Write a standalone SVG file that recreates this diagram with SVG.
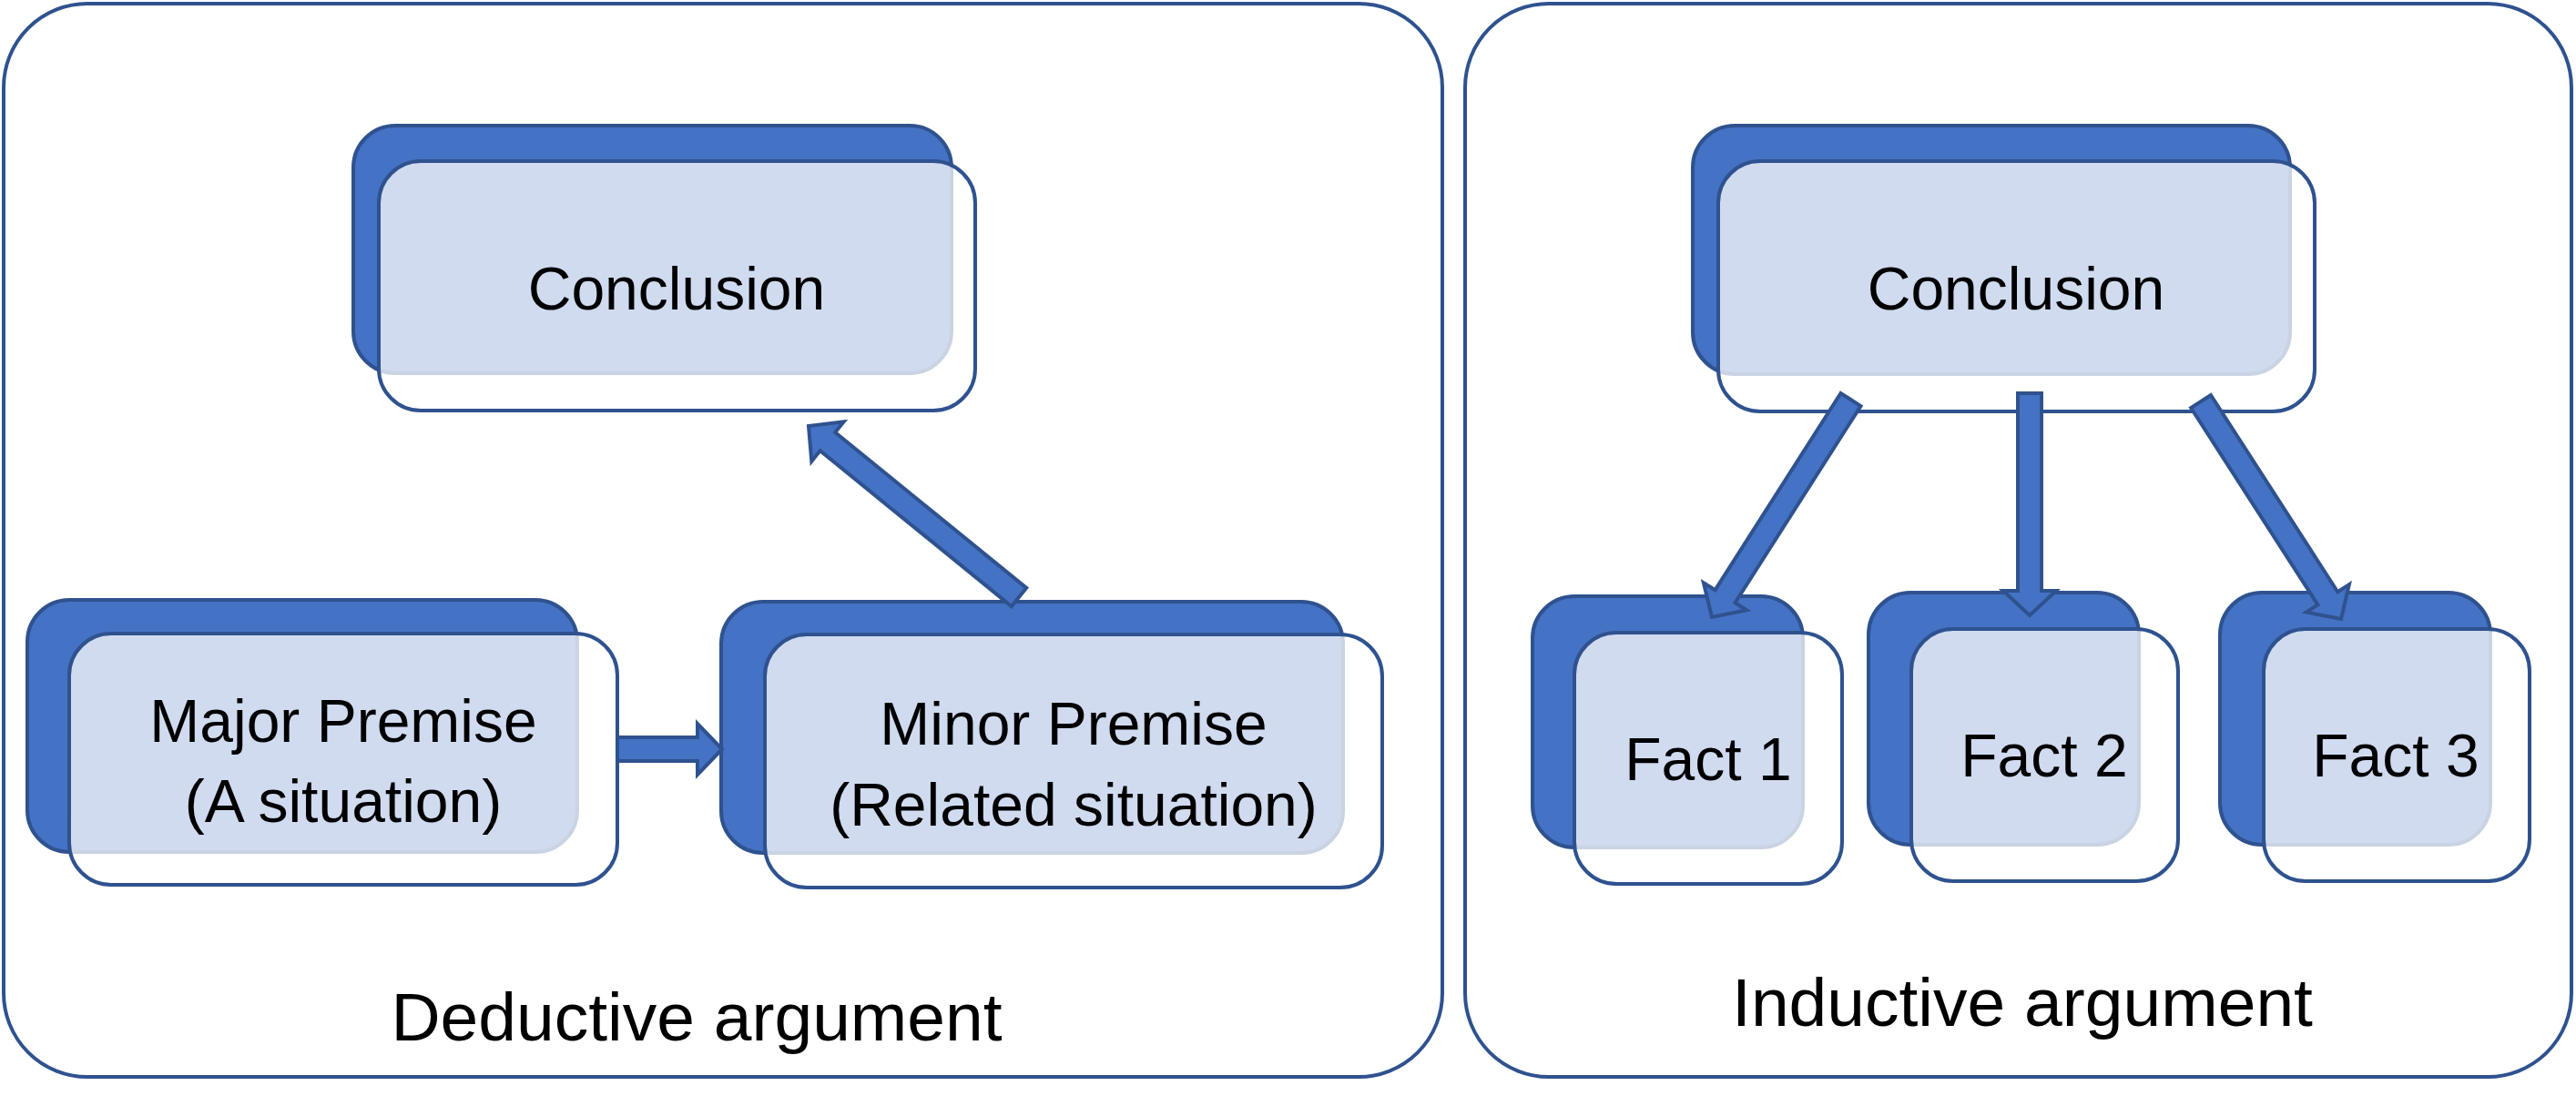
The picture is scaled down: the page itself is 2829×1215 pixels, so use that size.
<svg xmlns="http://www.w3.org/2000/svg" width="2829" height="1215" viewBox="0 0 2829 1215">
  <style>
    .panel { fill: #ffffff; stroke: #2F528F; stroke-width: 4; }
    .back { fill: #4472C4; stroke: #2F528F; stroke-width: 4; }
    .front { fill: #ffffff; fill-opacity: 0.75; stroke: #2F528F; stroke-width: 4; }
    .arrow { fill: #4472C4; stroke: #2F528F; stroke-width: 4; stroke-linejoin: miter; }
    .t { font-family: "Liberation Sans", Arial, sans-serif; font-size: 66px; fill: #000000; text-anchor: middle; }
    .lbl { font-size: 75px; }
  </style>
  <rect width="2829" height="1215" fill="#ffffff"/>

  <g id="panel-deductive">
    <rect class="panel" x="4" y="4" width="1580" height="1179" rx="92" ry="92"/>
    <text class="t lbl" x="765" y="1143">Deductive argument</text>
  </g>
  <g id="panel-inductive">
    <rect class="panel" x="1609" y="4" width="1215" height="1179" rx="92" ry="92"/>
    <text class="t lbl" x="2221" y="1127">Inductive argument</text>
  </g>

  <g id="ded-conclusion">
    <rect class="back" x="388" y="138" width="657" height="272" rx="46" ry="46"/>
    <rect class="front" x="416" y="177" width="655" height="274" rx="46" ry="46"/>
    <text class="t" x="743" y="340">Conclusion</text>
  </g>
  <g id="major-premise">
    <rect class="back" x="30" y="659" width="604" height="277" rx="46" ry="46"/>
    <rect class="front" x="76" y="696" width="602" height="276" rx="46" ry="46"/>
    <text class="t" x="377" y="815">Major Premise</text>
    <text class="t" x="377" y="903">(A situation)</text>
  </g>
  <g id="minor-premise">
    <rect class="back" x="792" y="661" width="683" height="276" rx="46" ry="46"/>
    <rect class="front" x="840" y="697" width="678" height="278" rx="46" ry="46"/>
    <text class="t" x="1179" y="818">Minor Premise</text>
    <text class="t" x="1179" y="907">(Related situation)</text>
  </g>

  <g id="ind-conclusion">
    <rect class="back" x="1859" y="138" width="656" height="273" rx="46" ry="46"/>
    <rect class="front" x="1887" y="177" width="655" height="275" rx="46" ry="46"/>
    <text class="t" x="2214" y="340">Conclusion</text>
  </g>
  <g id="fact-1">
    <rect class="back" x="1683" y="655" width="297" height="276" rx="46" ry="46"/>
    <rect class="front" x="1729" y="695" width="294" height="276" rx="46" ry="46"/>
    <text class="t" x="1876" y="857">Fact 1</text>
  </g>
  <g id="fact-2">
    <rect class="back" x="2052" y="651" width="297" height="277" rx="46" ry="46"/>
    <rect class="front" x="2099" y="691" width="293" height="277" rx="46" ry="46"/>
    <text class="t" x="2245" y="853">Fact 2</text>
  </g>
  <g id="fact-3">
    <rect class="back" x="2438" y="651" width="297" height="277" rx="46" ry="46"/>
    <rect class="front" x="2486" y="691" width="292" height="277" rx="46" ry="46"/>
    <text class="t" x="2631" y="853">Fact 3</text>
  </g>

  <g id="connectors">
    <polygon class="arrow" points="678,810 766,810 766,795 793,823 766,851 766,836 678,836"/>
    <polygon class="arrow" points="1127.2,645.9 917.2,475.0 926.6,463.3 888,468 891.3,506.8 900.7,495.1 1110.8,666.1"/>
    <polygon class="arrow" points="2021.5,432.0 1883.6,648.2 1870.9,640.2 1880,678 1918.1,670.3 1905.5,662.2 2043.5,446.0"/>
    <polygon class="arrow" points="2216,432 2216,649 2200,649 2229,676 2258,649 2242,649 2242,432"/>
    <polygon class="arrow" points="2406.1,448.0 2545.4,664.3 2532.8,672.5 2571,680 2579.9,642.1 2567.3,650.3 2427.9,434.0"/>
  </g>
</svg>
